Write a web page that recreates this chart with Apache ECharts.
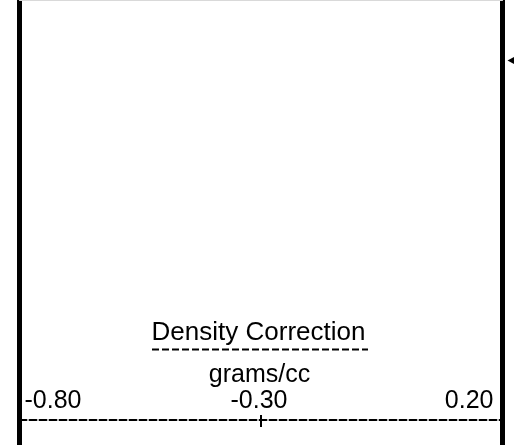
<!DOCTYPE html>
<html>
<head>
<meta charset="utf-8">
<script src="https://cdn.jsdelivr.net/npm/echarts@6/dist/echarts.min.js"></script>
<style>
html,body{margin:0;padding:0;background:#fff;}
#c{width:514px;height:445px;}
</style>
</head>
<body>
<div id="c"></div>
<script>
// ---- data ----
const curveName = 'Density Correction';
const curveUnit = 'grams/cc';
const scaleMin = -0.80;
const scaleMax = 0.20;
const tickValues = [-0.80, -0.30, 0.20];
const tickLabels = ['-0.80', '-0.30', '0.20'];
const majorTickValues = [-0.30];

const FONT = '"Liberation Sans", Arial, sans-serif';

function labelFor(v) {
  for (let i = 0; i < tickValues.length; i++) {
    if (Math.abs(tickValues[i] - v) < 1e-9) return tickLabels[i];
  }
  return '';
}

const chart = echarts.init(document.getElementById('c'), null, {renderer: 'canvas'});
chart.setOption({
  animation: false,
  backgroundColor: '#ffffff',
  grid: {left: 19.5, right: 11.5, top: 0.5, bottom: 0, containLabel: false},
  title: [
    {text: curveName, left: 258.5, textAlign: 'center', top: 320, padding: 0,
     textStyle: {fontFamily: FONT, fontSize: 26, fontWeight: 'normal', color: '#000'}},
    {text: curveUnit, left: 259.5, textAlign: 'center', top: 363, padding: 0,
     textStyle: {fontFamily: FONT, fontSize: 25, fontWeight: 'normal', color: '#000'}}
  ],
  xAxis: [
    {
      type: 'value', position: 'bottom', offset: -25,
      min: scaleMin, max: scaleMax,
      splitLine: {show: false},
      axisLine: {show: true, onZero: false, lineStyle: {color: '#000', width: 2, type: [7, 3]}},
      axisTick: {show: true, inside: false, length: 7, customValues: majorTickValues,
                 lineStyle: {color: '#000', width: 2}},
      axisLabel: {show: true, inside: true, margin: 6, customValues: tickValues,
                  formatter: labelFor, alignMinLabel: 'left', alignMaxLabel: 'right',
                  padding: [0, 9, 0, 5],
                  fontFamily: FONT, fontSize: 25, color: '#000'}
    },
    {
      type: 'value', position: 'bottom', offset: -25,
      min: scaleMin, max: scaleMax,
      splitLine: {show: false},
      axisLine: {show: false, onZero: false},
      axisTick: {show: true, inside: true, length: 5, customValues: majorTickValues,
                 lineStyle: {color: '#000', width: 2}},
      axisLabel: {show: false}
    },
    {
      type: 'value', position: 'top',
      min: scaleMin, max: scaleMax,
      splitLine: {show: false},
      axisLine: {show: true, onZero: false, lineStyle: {color: '#d9d9d9', width: 1}},
      axisTick: {show: false},
      axisLabel: {show: false}
    }
  ],
  yAxis: [
    {type: 'value', position: 'left', min: 0, max: 1, splitLine: {show: false},
     axisLine: {show: true, onZero: false, lineStyle: {color: '#000', width: 5}},
     axisTick: {show: false}, axisLabel: {show: false}},
    {type: 'value', position: 'right', min: 0, max: 1, splitLine: {show: false},
     axisLine: {show: true, onZero: false, lineStyle: {color: '#000', width: 5}},
     axisTick: {show: false}, axisLabel: {show: false}}
  ],
  graphic: [
    {type: 'line', shape: {x1: 152, y1: 349.5, x2: 368, y2: 349.5},
     style: {stroke: '#000', lineWidth: 2, lineDash: [7, 3]}},
    {type: 'polygon', shape: {points: [[507.5, 60.5], [514, 57], [514, 64]]},
     style: {fill: '#000'}}
  ],
  series: []
});
</script>
</body>
</html>
